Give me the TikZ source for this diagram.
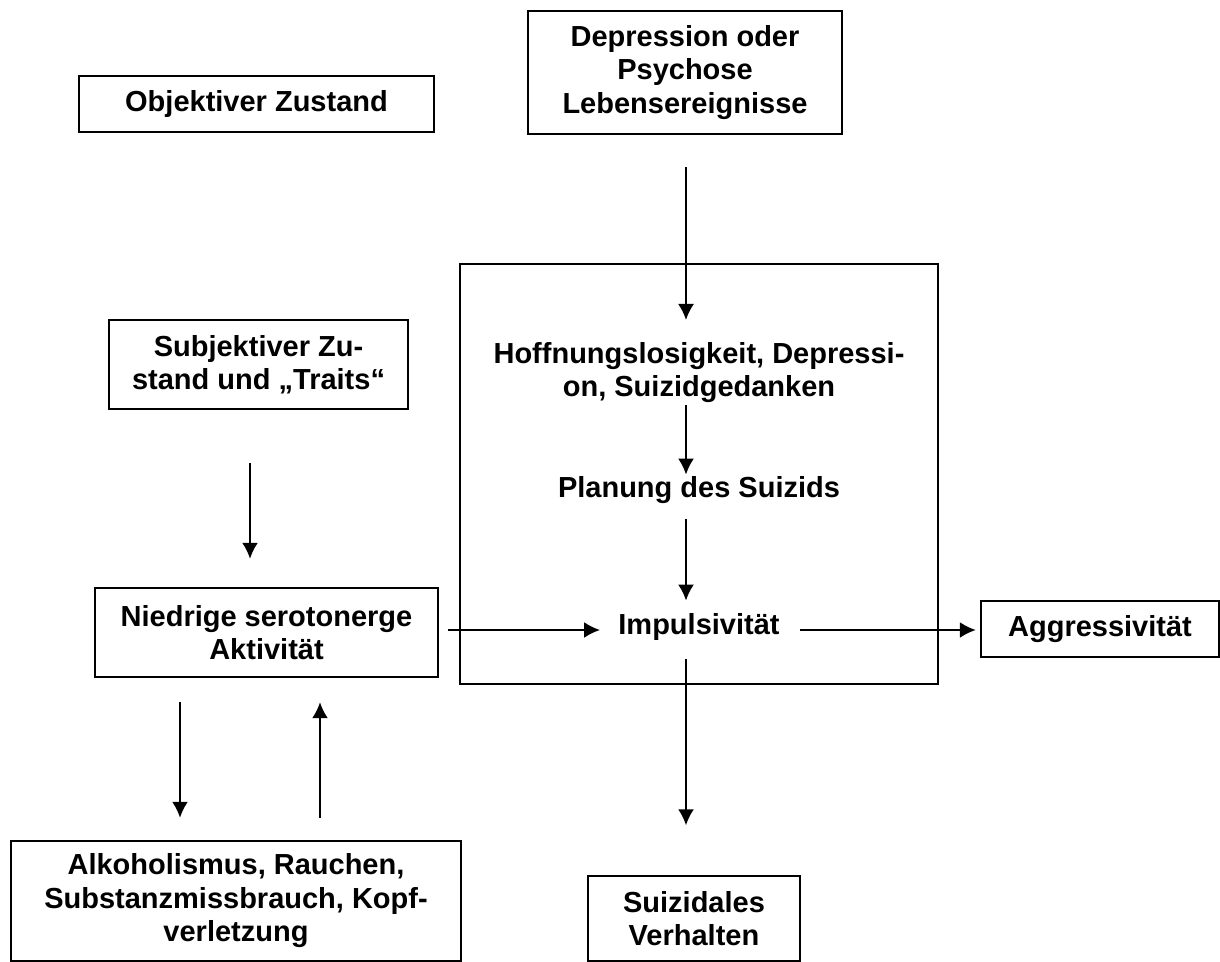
\documentclass[tikz,border=0pt]{standalone}
\usepackage{fontspec}
\setmainfont{Liberation Sans}[Ligatures=NoCommon]
\usepackage{tikz}
\usetikzlibrary{arrows.meta}
\tikzset{>={Latex[length=8pt,width=8pt]}}
\tikzset{
  box/.style={draw=black, line width=1.2pt, align=center, inner sep=0pt},
  txt/.style={align=center, inner sep=0pt},
  conn/.style={draw=black, line width=1.05pt, ->},
}

\begin{document}
\begin{tikzpicture}[x=0.5pt, y=-0.5pt, font=\fontsize{14.5}{16.75}\selectfont\bfseries]
  \useasboundingbox (0,0) rectangle (1220,962);
  \coordinate (axis) at (686,0);
  \coordinate (row) at (0,630);

  \node[draw=black, line width=1.05pt, minimum width=239pt, minimum height=210pt, inner sep=0pt] (frame) at (699,474) {};

  \node[box, minimum width=177.5pt, minimum height=28pt] (obj) at (256.5,104) {Objektiver Zustand};
  \node[box, minimum width=157pt, minimum height=61.5pt] (dep) at (685,72.5) {Depression oder\\Psychose\\Lebensereignisse};
  \node[box, minimum width=149.5pt, minimum height=44.5pt] (subj) at (258.5,364.5) {Subjektiver Zu-\\stand und „Traits“};
  \node[box, minimum width=171.5pt, minimum height=44.5pt] (niedr) at (266.5,632.5) {Niedrige serotonerge\\Aktivität};
  \node[box, minimum width=225pt, minimum height=60pt] (alk) at (236,901) {Alkoholismus, Rauchen,\\Substanzmissbrauch, Kopf-\\verletzung};
  \node[box, minimum width=106pt, minimum height=42.5pt] (suiz) at (694,918.5) {Suizidales\\Verhalten};
  \node[box, minimum width=119pt, minimum height=28pt] (aggr) at (1100,629) {Aggressivität};

  \node[txt, anchor=north] (hoff) at (699,342) {Hoffnungslosigkeit, Depressi-\\on, Suizidgedanken};
  \node[txt, anchor=base] (plan) at (699,497) {Planung des Suizids};
  \node[txt, anchor=base] (imp) at (699,634) {Impulsivität};

  \path (dep.south -| axis) edge[conn, shorten <=16pt, shorten >=11pt] (hoff.north -| axis);
  \path (hoff.south -| axis) edge[conn, shorten <=1pt, shorten >=0.5pt] (plan.north -| axis);
  \path (plan.south -| axis) edge[conn, shorten <=7.5pt, shorten >=6pt] (imp.north -| axis);
  \path (imp.south -| axis) edge[conn, shorten <=9.5pt, shorten >=24.75pt] (suiz.north -| axis);
  \path ([xshift=-4.25pt]subj.south) edge[conn, shorten <=26.5pt, shorten >=14pt] ([xshift=-4.25pt]subj.south |- niedr.north);
  \path ([xshift=-43.25pt]niedr.south) edge[conn, shorten <=12pt, shorten >=11pt] ([xshift=-43.25pt]niedr.south |- alk.north);
  \path ([xshift=42pt]alk.north) edge[conn, shorten <=11pt, shorten >=12pt] ([xshift=42pt]alk.north |- niedr.south);
  \path (niedr.east |- row) edge[conn, shorten <=4.5pt, shorten >=9pt] (imp.west |- row);
  \path (imp.east |- row) edge[conn, shorten <=10pt, shorten >=2pt] (aggr.west |- row);
\end{tikzpicture}
\end{document}
